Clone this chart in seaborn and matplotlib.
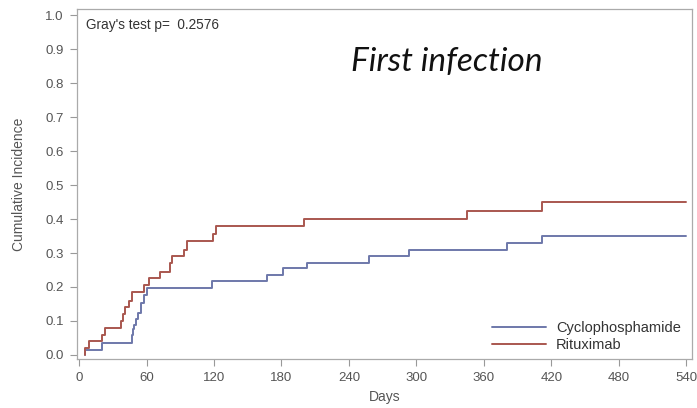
import numpy as np
import pandas as pd
import matplotlib
matplotlib.use("Agg")
import matplotlib.pyplot as plt
import seaborn as sns

# ---- data ----
ritux_days = [5, 5.5, 9, 20, 23, 37, 39, 41, 44, 47, 58, 62, 72, 81, 83, 93, 96, 119, 122, 200, 345, 412, 540]
ritux_ci = [0.0, 0.02, 0.04, 0.06, 0.08, 0.10, 0.12, 0.14, 0.16, 0.185, 0.205, 0.225, 0.245, 0.27, 0.29,
            0.31, 0.335, 0.355, 0.38, 0.40, 0.425, 0.45, 0.45]
cyclo_days = [5, 5.5, 20, 47, 48, 49, 50.5, 52.5, 55, 58, 60.5, 118, 167, 181, 203, 258, 293, 380.5, 411.6, 540]
cyclo_ci = [0.0, 0.015, 0.034, 0.06, 0.075, 0.088, 0.105, 0.123, 0.153, 0.175, 0.197, 0.218, 0.236, 0.255,
            0.272, 0.292, 0.31, 0.33, 0.35, 0.35]
groups = ["Cyclophosphamide", "Rituximab"]
x_ticks = [0, 60, 120, 180, 240, 300, 360, 420, 480, 540]
y_ticks = [0.0, 0.1, 0.2, 0.3, 0.4, 0.5, 0.6, 0.7, 0.8, 0.9, 1.0]
p_text = "Gray's test p=  0.2576"
title_text = "First infection"

df = pd.concat([
    pd.DataFrame({"Days": cyclo_days, "CI": cyclo_ci, "Group": groups[0]}),
    pd.DataFrame({"Days": ritux_days, "CI": ritux_ci, "Group": groups[1]}),
], ignore_index=True)

sns.set_theme(style="white")
plt.rcParams["font.family"] = ["Liberation Sans", "DejaVu Sans"]

fig = plt.figure(figsize=(6.97, 4.08), dpi=100)
ax = fig.add_axes([0.1105, 0.120, 0.8823, 0.858])

palette = {groups[0]: "#6e78aa", groups[1]: "#a9574f"}
sns.lineplot(data=df, x="Days", y="CI", hue="Group", palette=palette, drawstyle="steps-post",
             linewidth=1.4, ax=ax, estimator=None, sort=False)

grey = "#555555"
ax.set_xlim(-1.8, 545)
ax.set_ylim(-0.012, 1.018)
ax.set_xticks(x_ticks)
ax.set_yticks(y_ticks)
ax.set_xticklabels([str(t) for t in x_ticks])
ax.set_yticklabels([f"{t:.1f}" for t in y_ticks])
ax.tick_params(axis="both", which="major", direction="out", length=5, width=0.8,
               colors="#999999", labelcolor=grey, labelsize=9.5, pad=4.5,
               bottom=True, left=True)
for s in ax.spines.values():
    s.set_color("#aaaaaa")
    s.set_linewidth(0.9)

ax.set_xlabel("Days", fontsize=10, color=grey, labelpad=4)
ax.set_ylabel("Cumulative Incidence", fontsize=10, color=grey, labelpad=14)

ax.text(0.014, 0.954, p_text, transform=ax.transAxes, ha="left", va="center", fontsize=9.8, color="#333333")
fig.text(0.641, 0.848, title_text, fontsize=24, style="italic", family=["Lato", "DejaVu Sans"],
         color="#111111", ha="center", va="center")

leg = ax.legend(loc="lower right", frameon=False, fontsize=10.5, handlelength=3.7, handletextpad=0.7,
                labelspacing=0.22, borderpad=0, borderaxespad=0, bbox_to_anchor=(0.982, 0.02))
for t in leg.get_texts():
    t.set_color("#333333")

fig.savefig("out.png", dpi=100)
